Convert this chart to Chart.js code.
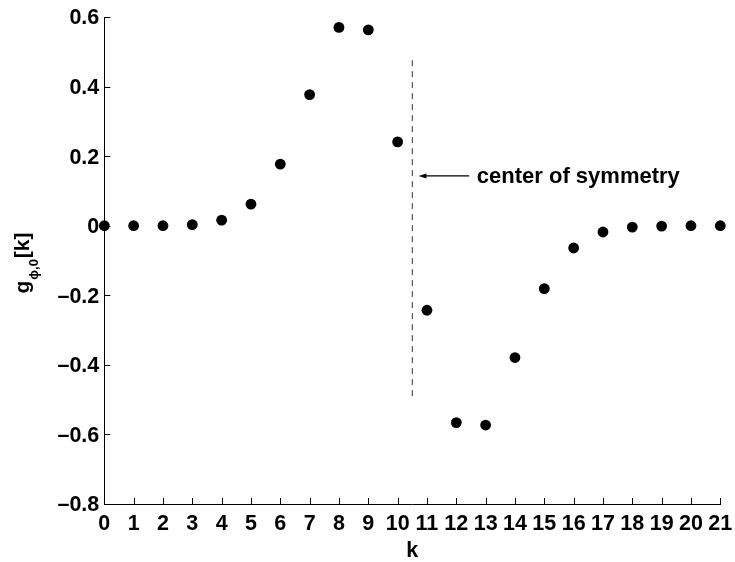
<!DOCTYPE html>
<html>
<head>
<meta charset="utf-8">
<script src="https://cdn.jsdelivr.net/npm/chart.js@4/dist/chart.umd.min.js"></script>
<style>
  html, body { margin: 0; padding: 0; background: #fff; }
  #wrap { width: 735px; height: 562px; }
</style>
</head>
<body>
<div id="wrap"><canvas id="c" width="735" height="562"></canvas></div>
<script>
// Sample index k and filter coefficients g_{phi,0}[k]
const kValues = [0, 1, 2, 3, 4, 5, 6, 7, 8, 9, 10, 11, 12, 13, 14, 15, 16, 17, 18, 19, 20, 21];
const gValues = [0, 0, 0, 0.003, 0.016, 0.062, 0.177, 0.377, 0.570, 0.563, 0.241,
                 -0.243, -0.566, -0.573, -0.379, -0.181, -0.064, -0.018, -0.004, -0.001, 0, 0];

// Axis tick values
const xTicks = [0, 1, 2, 3, 4, 5, 6, 7, 8, 9, 10, 11, 12, 13, 14, 15, 16, 17, 18, 19, 20, 21];
const yTicks = [-0.8, -0.6, -0.4, -0.2, 0, 0.2, 0.4, 0.6];

// Symmetry marker (dashed line) and its callout, in data units
const symmetryK = [10.5, 10.5];
const symmetryG = [0.476, -0.5];
const calloutText = 'center of symmetry';
const calloutFromK = 12.44;
const calloutToK = 10.71;
const calloutG = 0.143;
const calloutTextK = 12.70;

const FONT = '"Liberation Sans", Arial, Helvetica, sans-serif';

function fmtTick(v) {
  if (Math.abs(v) < 1e-9) return '0';
  return (v < 0 ? '\u2013' : '') + Math.abs(v).toFixed(1);
}

// Tick marks pointing into the plot, left and bottom axes only
const inwardTicks = {
  id: 'inwardTicks',
  afterDraw(chart) {
    const { ctx, chartArea, scales } = chart;
    ctx.save();
    ctx.strokeStyle = '#000';
    ctx.lineWidth = 1;
    ctx.beginPath();
    xTicks.forEach(v => {
      const px = Math.round(scales.x.getPixelForValue(v)) + 0.5;
      ctx.moveTo(px, chartArea.bottom);
      ctx.lineTo(px, chartArea.bottom - 6);
    });
    yTicks.forEach(v => {
      const py = Math.round(scales.y.getPixelForValue(v)) + 0.5;
      ctx.moveTo(chartArea.left, py);
      ctx.lineTo(chartArea.left + 6, py);
    });
    ctx.stroke();
    ctx.restore();
  }
};

// Arrow and text pointing at the symmetry line
const callout = {
  id: 'callout',
  afterDatasetsDraw(chart) {
    const { ctx, scales } = chart;
    const x0 = scales.x.getPixelForValue(calloutFromK);
    const x1 = scales.x.getPixelForValue(calloutToK);
    const y = scales.y.getPixelForValue(calloutG);
    ctx.save();
    ctx.strokeStyle = '#000';
    ctx.fillStyle = '#000';
    ctx.lineWidth = 1.3;
    ctx.beginPath();
    ctx.moveTo(x0, y);
    ctx.lineTo(x1 + 6, y);
    ctx.stroke();
    ctx.beginPath();
    ctx.moveTo(x1, y);
    ctx.lineTo(x1 + 8, y - 2.5);
    ctx.lineTo(x1 + 8, y + 2.5);
    ctx.closePath();
    ctx.fill();
    ctx.font = 'bold 22px ' + FONT;
    ctx.textAlign = 'left';
    ctx.textBaseline = 'middle';
    ctx.fillText(calloutText, scales.x.getPixelForValue(calloutTextK), y + 1);
    ctx.restore();
  }
};

// Axis labels: "k" below, rotated "g_{phi,0}[k]" on the left
const axisLabels = {
  id: 'axisLabels',
  afterDraw(chart) {
    const { ctx, chartArea } = chart;
    ctx.save();
    ctx.fillStyle = '#000';
    ctx.font = 'bold 21.5px ' + FONT;
    ctx.textAlign = 'center';
    ctx.textBaseline = 'alphabetic';
    ctx.fillText('k', (chartArea.left + chartArea.right) / 2, 557);

    const main = 'bold 21px ' + FONT;
    const sub = 'bold 13px ' + FONT;
    ctx.font = main;
    const wg = ctx.measureText('g').width;
    const wk = ctx.measureText('[k]').width;
    ctx.font = sub;
    const ws = ctx.measureText('\u03d5,0').width;
    const total = wg + ws + wk + 2;
    ctx.translate(29, 263);
    ctx.rotate(-Math.PI / 2);
    ctx.textAlign = 'left';
    let x = -total / 2;
    ctx.font = main;
    ctx.fillText('g', x, 0);
    x += wg + 1;
    ctx.font = sub;
    ctx.fillText('\u03d5,0', x, 9);
    x += ws + 1;
    ctx.font = main;
    ctx.fillText('[k]', x, 0);
    ctx.restore();
  }
};

new Chart(document.getElementById('c'), {
  type: 'scatter',
  data: {
    datasets: [
      {
        data: kValues.map((k, i) => ({ x: k, y: gValues[i] })),
        backgroundColor: '#000',
        borderColor: '#000',
        borderWidth: 0,
        pointRadius: 5.4,
        pointHoverRadius: 5.4,
        clip: false
      },
      {
        type: 'line',
        data: symmetryK.map((k, i) => ({ x: k, y: symmetryG[i] })),
        borderColor: '#333',
        borderWidth: 1,
        borderDash: [6, 5],
        pointRadius: 0,
        fill: false
      }
    ]
  },
  options: {
    responsive: false,
    animation: false,
    devicePixelRatio: 1,
    layout: { padding: { left: 0, right: 14.7, top: 17, bottom: 0 } },
    plugins: {
      legend: { display: false },
      tooltip: { enabled: false },
      title: { display: false }
    },
    scales: {
      x: {
        type: 'linear',
        min: 0,
        max: 21,
        afterFit: s => { s.height = 58; s.paddingLeft = 0; s.paddingRight = 0; },
        afterBuildTicks: s => { s.ticks = xTicks.map(v => ({ value: v })); },
        ticks: {
          autoSkip: false,
          maxRotation: 0,
          padding: 7,
          color: '#000',
          font: { family: FONT, size: 21.5, weight: 'bold' },
          callback: v => String(v)
        },
        grid: { drawOnChartArea: false, drawTicks: false },
        border: { display: true, color: '#000', width: 1 }
      },
      y: {
        type: 'linear',
        min: -0.8,
        max: 0.6,
        afterFit: s => { s.width = 104.3; s.paddingTop = 0; s.paddingBottom = 0; },
        afterBuildTicks: s => { s.ticks = yTicks.map(v => ({ value: v })); },
        ticks: {
          autoSkip: false,
          padding: 5,
          labelOffset: 1.5,
          color: '#000',
          font: { family: FONT, size: 21.5, weight: 'bold' },
          callback: v => fmtTick(v)
        },
        grid: { drawOnChartArea: false, drawTicks: false },
        border: { display: true, color: '#000', width: 1 }
      }
    }
  },
  plugins: [inwardTicks, callout, axisLabels]
});
</script>
</body>
</html>
